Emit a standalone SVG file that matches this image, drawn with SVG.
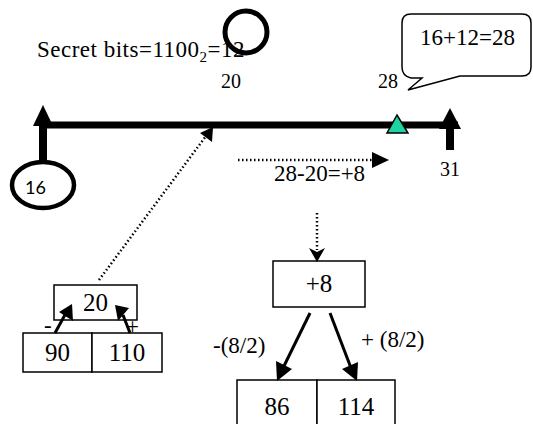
<svg xmlns="http://www.w3.org/2000/svg" width="533" height="424" viewBox="0 0 533 424">
<defs>
<style>
text{font-family:"Liberation Serif","Times New Roman",serif;font-size:23px;fill:#000}
.lbl{font-size:20px}
.bx{font-size:25px}
.box{fill:#fff;stroke:#000;stroke-width:1.5}
.dot{fill:none;stroke:#000;stroke-width:2.5;stroke-dasharray:1.5 2.5}
.arr{fill:none;stroke:#000;stroke-width:3}
.sans{font-family:Lato,"Open Sans",sans-serif;font-size:18px}
</style>
</defs>
<rect width="533" height="424" fill="#fff"/>
<g id="secret">
<text x="37" y="57" font-size="25" letter-spacing="0.5">Secret bits=1100<tspan font-size="15" dy="5">2</tspan><tspan dy="-5">=12</tspan></text>
<circle cx="246" cy="32" r="21" fill="none" stroke="#000" stroke-width="5"/>
</g>
<g id="label20"><text class="lbl" x="221" y="88">20</text></g>
<g id="label28"><text class="lbl" x="378" y="88">28</text></g>
<g id="bubble">
<path d="M411,14 H522 Q531,14 531,23 V67 Q531,76 522,76 H460 L408,90 L422,78 H411 Q402,76 402,67 V23 Q402,14 411,14 Z" fill="#fff" stroke="#000" stroke-width="1.5"/>
<text x="420" y="45">16+12=28</text>
</g>
<g id="axis">
<line x1="43" y1="125" x2="458" y2="125" stroke="#000" stroke-width="7"/>
<line x1="43" y1="160" x2="43" y2="120" stroke="#000" stroke-width="8"/>
<path d="M43,105 L33,126 L53,126 Z" fill="#000"/>
<line x1="450" y1="150" x2="450" y2="120" stroke="#000" stroke-width="8"/>
<path d="M450,108 L439,129 L461,129 Z" fill="#000"/>
<path d="M397,115 L387,133 L408,133 Z" fill="#20d3a2" stroke="#000" stroke-width="1.5"/>
</g>
<g id="node16">
<ellipse cx="43" cy="185" rx="31" ry="23" fill="#fff" stroke="#000" stroke-width="4.5"/>
<text class="sans" x="25" y="194">16</text>
</g>
<g id="label31"><text class="lbl" x="440" y="176">31</text></g>
<g id="diff"><text x="274" y="181" font-size="24">28-20=+8</text></g>
<g id="box20"><rect class="box" x="54" y="285" width="83" height="35"/><text class="bx" x="95.5" y="311" text-anchor="middle">20</text></g>
<g id="box90"><rect class="box" x="23" y="333" width="69" height="39"/><text class="bx" x="57.5" y="361" text-anchor="middle">90</text></g>
<g id="box110"><rect class="box" x="92" y="333" width="70" height="39"/><text class="bx" x="127" y="361" text-anchor="middle">110</text></g>
<g id="boxp8"><rect class="box" x="273" y="261" width="92" height="46"/><text class="bx" x="319" y="292" text-anchor="middle">+8</text></g>
<g id="box86"><rect class="box" x="237" y="380" width="80" height="50"/><text class="bx" x="277" y="415" text-anchor="middle">86</text></g>
<g id="box114"><rect class="box" x="317" y="380" width="78" height="50"/><text class="bx" x="356" y="415" text-anchor="middle">114</text></g>
<g id="labels">
<text x="44" y="333" font-size="22">-</text>
<text x="126" y="334" font-size="21">+</text>
<text x="213" y="353">-(8/2)</text>
<text x="361" y="347">+ (8/2)</text>
</g>
<g id="connectors">
<line class="dot" x1="238" y1="160" x2="374" y2="160"/>
<path d="M372,152 L389,160 L372,168 Z" fill="#000"/>
<line class="dot" x1="99" y1="280" x2="206" y2="136"/>
<path d="M213,127 L212,142 L200,133 Z" fill="#000"/>
<line class="dot" x1="317" y1="213" x2="317" y2="250"/>
<path d="M317,262 L309,248 L317,252 L325,248 Z" fill="#000"/>
<line class="arr" x1="310" y1="313" x2="283" y2="368"/>
<path d="M277,381 L276,361 L292,369 Z" fill="#000"/>
<line class="arr" x1="330" y1="313" x2="351" y2="368"/>
<path d="M357,381 L342,369 L358,362 Z" fill="#000"/>
<line class="arr" x1="55" y1="333" x2="66" y2="313"/>
<path d="M73,321 L59,312 L72,304 Z" fill="#000"/>
<line class="arr" x1="130" y1="333" x2="123" y2="315"/>
<path d="M118,321 L115,305 L129,308 Z" fill="#000"/>
</g>
</svg>
